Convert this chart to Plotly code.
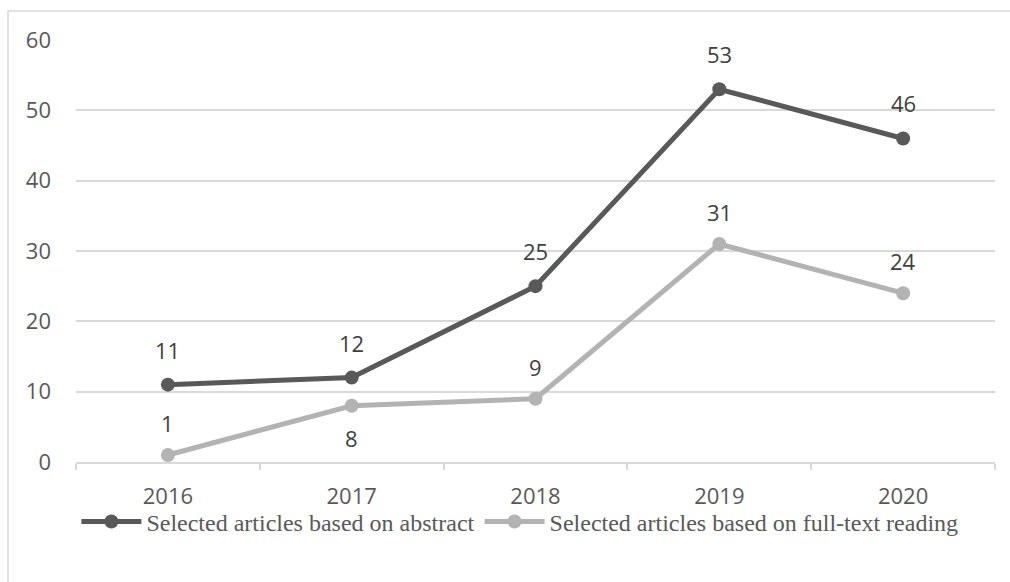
import plotly.graph_objects as go

years = ["2016", "2017", "2018", "2019", "2020"]
abstract_vals = [11, 12, 25, 53, 46]
fulltext_vals = [1, 8, 9, 31, 24]
fulltext_label_shift = [1, -1, 1, 1, 1]  # +1 above point, -1 below

dark = "#595959"
light = "#b3b3b3"
label_font = dict(family="Open Sans", size=22, color="#404040")

fig = go.Figure()
fig.add_trace(go.Scatter(
    x=years, y=abstract_vals, name="Selected articles based on abstract",
    mode="lines+markers",
    line=dict(color=dark, width=5), marker=dict(color=dark, size=14),
    cliponaxis=False,
))
fig.add_trace(go.Scatter(
    x=years, y=fulltext_vals, name="Selected articles based on full-text reading",
    mode="lines+markers",
    line=dict(color=light, width=5), marker=dict(color=light, size=14),
    cliponaxis=False,
))

annotations = []
for i, v in enumerate(abstract_vals):
    annotations.append(dict(x=i, y=v, xref="x", yref="y", text=str(v), showarrow=False,
                            yshift=35, font=label_font))
for i, (v, s) in enumerate(zip(fulltext_vals, fulltext_label_shift)):
    annotations.append(dict(x=i, y=v, xref="x", yref="y", text=str(v), showarrow=False,
                            yshift=32 * s, font=label_font))

fig.update_layout(
    width=1010, height=582,
    margin=dict(l=76, r=15, t=40, b=120),
    paper_bgcolor="white", plot_bgcolor="white",
    showlegend=True,
    annotations=annotations,
    legend=dict(orientation="h", x=0.483, xanchor="center", y=-0.142, yanchor="middle",
                bgcolor="rgba(0,0,0,0)",
                font=dict(family="Liberation Serif", size=24, color=dark),
                traceorder="normal", itemwidth=60),
    xaxis=dict(type="category", range=[-0.5, 4.5], showgrid=False,
               showline=True, linecolor="#d9d9d9", linewidth=1.5,
               ticks="outside", tickson="boundaries", ticklen=6, tickcolor="#d9d9d9", tickwidth=1.5,
               tickfont=dict(family="Open Sans", size=22, color=dark), ticklabelstandoff=14),
    yaxis=dict(range=[0, 60], dtick=10, showgrid=True, gridcolor="#d9d9d9", gridwidth=1.5,
               zeroline=False, showline=False,
               tickfont=dict(family="Open Sans", size=22, color=dark), ticklabelstandoff=24),
    shapes=[dict(type="rect", xref="paper", yref="paper",
                 x0=(8 - 76) / 919, x1=1.2,
                 y0=-0.6, y1=(462 - 11) / 422,
                 line=dict(color="#d9d9d9", width=1.5), fillcolor="rgba(0,0,0,0)", layer="below")],
)

fig.write_html("out.html")
